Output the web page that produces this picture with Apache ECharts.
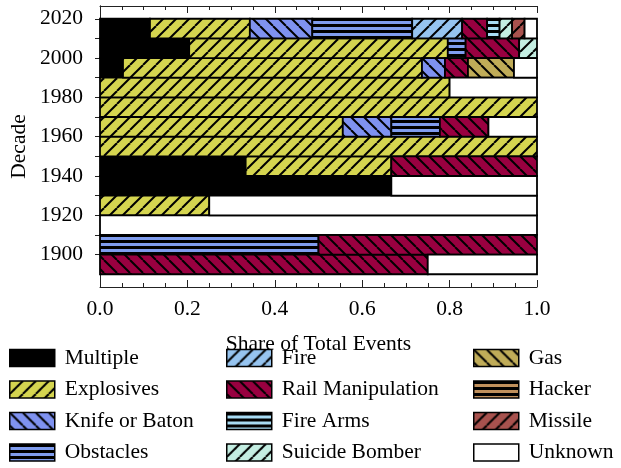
<!DOCTYPE html>
<html>
<head>
<meta charset="utf-8">
<script src="https://cdn.jsdelivr.net/npm/echarts@6/dist/echarts.min.js"></script>
<style>html,body{margin:0;padding:0;background:#fff}#c{width:621px;height:468px}</style>
</head>
<body>
<div id="c"></div>
<script>
// Decade start years (each bar spans decade .. decade+10)
const decades = [1890, 1900, 1910, 1920, 1930, 1940, 1950, 1960, 1970, 1980, 1990, 2000, 2010];
const categories = ['Multiple','Explosives','Knife or Baton','Obstacles','Fire','Rail Manipulation','Fire Arms','Suicide Bomber','Gas','Hacker','Missile','Unknown'];
// Share of total events per decade (order follows decades)
const multiple      = [0, 0, 0, 0, 0.6667, 0.3333, 0, 0, 0, 0, 0.0526, 0.2041, 0.1143];
const explosives    = [0, 0, 0, 0.25, 0, 0.3333, 1, 0.5556, 1, 0.8, 0.6842, 0.5918, 0.2286];
const knife         = [0, 0, 0, 0, 0, 0, 0, 0.1111, 0, 0, 0.0526, 0, 0.1429];
const obstacles     = [0, 0.5, 0, 0, 0, 0, 0, 0.1111, 0, 0, 0, 0.0408, 0.2286];
const fire          = [0, 0, 0, 0, 0, 0, 0, 0, 0, 0, 0, 0, 0.1143];
const rail          = [0.75, 0.5, 0, 0, 0, 0.3334, 0, 0.1111, 0, 0, 0.0526, 0.1224, 0.0571];
const fireArms      = [0, 0, 0, 0, 0, 0, 0, 0, 0, 0, 0, 0, 0.0286];
const suicide       = [0, 0, 0, 0, 0, 0, 0, 0, 0, 0, 0, 0.0409, 0.0286];
const gas           = [0, 0, 0, 0, 0, 0, 0, 0, 0, 0, 0.1053, 0, 0];
const hacker        = [0, 0, 0, 0, 0, 0, 0, 0, 0, 0, 0, 0, 0];
const missile       = [0, 0, 0, 0, 0, 0, 0, 0, 0, 0, 0, 0, 0.0286];
const unknown       = [0.25, 0, 1, 0.75, 0.3333, 0, 0, 0.1111, 0, 0.2, 0.0527, 0, 0.0284];
const seriesValues = [multiple, explosives, knife, obstacles, fire, rail, fireArms, suicide, gas, hacker, missile, unknown];
const yTickLabels = [1900, 1920, 1940, 1960, 1980, 2000, 2020];
const yTicks = [1900, 1910, 1920, 1930, 1940, 1950, 1960, 1970, 1980, 1990, 2000, 2010, 2020];

function makePattern(bg, kind) {
  const c = document.createElement('canvas');
  const ctx = c.getContext('2d');
  if (kind === 'solid') {
    c.width = 4; c.height = 4;
    ctx.fillStyle = bg; ctx.fillRect(0,0,4,4);
  } else if (kind === 'h') {
    c.width = 4; c.height = 6;
    ctx.fillStyle = bg; ctx.fillRect(0,0,4,6);
    ctx.fillStyle = '#000'; ctx.fillRect(0,0,4,3);
  } else {
    const s = 13;
    c.width = s; c.height = s;
    ctx.fillStyle = bg; ctx.fillRect(0,0,s,s);
    ctx.strokeStyle = '#000'; ctx.lineWidth = 2;
    for (let k = -1; k <= 1; k++) {
      ctx.beginPath();
      if (kind === 'ne') { ctx.moveTo(k*s, s); ctx.lineTo(k*s + s, 0); }
      else { ctx.moveTo(k*s, 0); ctx.lineTo(k*s + s, s); }
      ctx.stroke();
    }
  }
  return { image: c, repeat: 'repeat' };
}

const styles = [
  ['#000000','solid'], ['#d5d550','ne'], ['#7f92f0','nw'], ['#7f9cee','h'],
  ['#96c4f0','ne'], ['#990040','nw'], ['#a8dcf4','h'], ['#c4eee2','ne'],
  ['#c0ac58','nw'], ['#c0905c','h'], ['#a8524e','ne'], ['#ffffff','solid']
];
const patterns = styles.map(s => makePattern(s[0], s[1]));

const FONT = 'Liberation Serif';
const FS = 21.5;
const series = categories.map((name, ci) => {
  const data = [];
  decades.forEach((d, di) => {
    let start = 0;
    for (let k = 0; k < ci; k++) start += seriesValues[k][di];
    const v = seriesValues[ci][di];
    if (v > 0) data.push([start, Math.min(1, start + v), d]);
  });
  const pat = patterns[ci];
  return {
    name, type: 'custom',
    itemStyle: { color: pat, borderColor: '#000', borderWidth: 1.8 },
    encode: { x: [0, 1], y: 2 },
    data,
    renderItem: function (params, api) {
      const p0 = api.coord([api.value(0), api.value(2) + 10]);
      const p1 = api.coord([api.value(1), api.value(2)]);
      return {
        type: 'rect',
        shape: { x: p0[0], y: p0[1], width: p1[0] - p0[0], height: p1[1] - p0[1] },
        style: { fill: pat, stroke: '#000', lineWidth: 1.8 }
      };
    }
  };
});

const legendBase = {
  orient: 'vertical', top: 347, padding: 0, icon: 'rect',
  itemWidth: 45, itemHeight: 17, itemGap: 9.5,
  textStyle: { fontFamily: FONT, fontSize: FS, color: '#000', padding: [0,0,0,5] },
  itemStyle: { borderColor: '#000', borderWidth: 1.5 },
  selectedMode: false
};

const xCommon = {
  type: 'value', min: 0, max: 1, interval: 0.2,
  axisLine: { show: true, lineStyle: { color: '#222', width: 1 } },
  axisTick: { show: true, inside: true, length: 7, lineStyle: { color: '#222', width: 1 } },
  minorTick: { show: true, splitNumber: 4, length: 4, lineStyle: { color: '#222', width: 1 } },
  splitLine: { show: false }
};

const option = {
  animation: false,
  backgroundColor: '#fff',
  grid: { left: 100, right: 84, top: 6, bottom: 181, containLabel: false, outerBoundsMode: 'none' },
  xAxis: [
    Object.assign({}, xCommon, {
      position: 'bottom',
      name: 'Share of Total Events', nameLocation: 'middle', nameGap: 46, nameMoveOverlap: false,
      nameTextStyle: { fontFamily: FONT, fontSize: FS, color: '#000' },
      axisLabel: { fontFamily: FONT, fontSize: FS, color: '#000', margin: 11, formatter: v => v.toFixed(1) }
    }),
    Object.assign({}, xCommon, { position: 'top', axisLabel: { show: false } })
  ],
  yAxis: [
    {
      type: 'value', min: 1883.5, max: 2026.5, position: 'left',
      name: 'Decade', nameLocation: 'middle', nameGap: 70, nameRotate: 90, nameMoveOverlap: false,
      nameTextStyle: { fontFamily: FONT, fontSize: FS, color: '#000' },
      axisLine: { show: true, lineStyle: { color: '#222', width: 1 } },
      axisTick: { show: true, inside: false, length: 5, customValues: yTicks, lineStyle: { color: '#222', width: 1 } },
      axisLabel: { fontFamily: FONT, fontSize: FS, color: '#000', margin: 17, customValues: yTickLabels, formatter: v => String(v) },
      splitLine: { show: false }
    },
    {
      type: 'value', min: 1883.5, max: 2026.5, position: 'right',
      axisLine: { show: true, lineStyle: { color: '#222', width: 1 } },
      axisTick: { show: false }, axisLabel: { show: false }, splitLine: { show: false }
    }
  ],
  legend: [
    Object.assign({}, legendBase, { left: 9, data: categories.slice(0, 4) }),
    Object.assign({}, legendBase, { left: 226, data: categories.slice(4, 8) }),
    Object.assign({}, legendBase, { left: 473, data: categories.slice(8, 12) })
  ],
  series
};

const chart = echarts.init(document.getElementById('c'), null, { renderer: 'canvas' });
chart.setOption(option);
</script>
</body>
</html>
